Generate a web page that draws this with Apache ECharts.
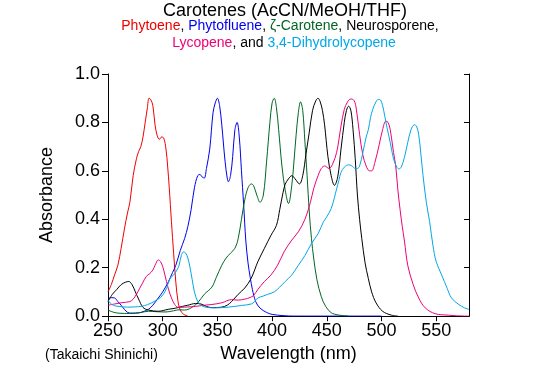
<!DOCTYPE html>
<html>
<head>
<meta charset="utf-8">
<script src="https://cdn.jsdelivr.net/npm/echarts@6/dist/echarts.min.js"></script>
<style>html,body{margin:0;padding:0;background:#fff}#c{width:540px;height:368px}</style>
</head>
<body>
<div id="c"></div>
<script>
// ---- data (wavelength nm, absorbance) ----
var phytoene = [[250,0.10],[253,0.13],[256,0.17],[259,0.21],[262,0.28],[265,0.36],[268,0.43],[270,0.47],[273,0.58],[276,0.65],[278,0.68],[280,0.70],[282,0.74],[284,0.80],[286,0.86],[287.5,0.90],[289,0.895],[291,0.87],[293,0.79],[295,0.745],[297,0.73],[299,0.74],[301,0.735],[303,0.69],[304.5,0.62],[306,0.53],[308,0.39],[310,0.26],[312,0.14],[314,0.06],[316,0.025],[319,0.008],[323,0]];
var phytofluene = [[250,0.072],[253,0.076],[256,0.075],[259,0.06],[262,0.045],[265,0.028],[268,0.015],[272,0.012],[278,0.013],[283,0.02],[287,0.028],[291,0.045],[296,0.075],[300,0.10],[305,0.14],[309,0.18],[312,0.21],[316,0.27],[320,0.32],[323,0.37],[326,0.44],[329,0.53],[332,0.58],[334,0.585],[336,0.575],[338,0.57],[340,0.61],[343,0.69],[346,0.84],[348,0.88],[350,0.90],[352,0.87],[354,0.79],[357,0.64],[359,0.57],[360,0.555],[362,0.58],[364,0.66],[366,0.77],[368,0.80],[370,0.74],[372,0.60],[374,0.46],[376,0.31],[378,0.22],[380,0.16],[382,0.11],[385,0.06],[389,0.033],[395,0.015],[400,0.007],[410,0.002],[420,0],[500,0]];
var zetaCarotene = [[250,0.025],[255,0.016],[260,0.012],[270,0.011],[280,0.015],[287,0.02],[295,0.018],[303,0.017],[310,0.022],[315,0.026],[320,0.025],[326,0.034],[332,0.055],[338,0.09],[345,0.12],[349,0.16],[354,0.21],[358,0.24],[362,0.26],[366,0.28],[369,0.32],[372,0.40],[375,0.48],[378,0.53],[381,0.546],[383,0.54],[386,0.50],[389,0.47],[392,0.50],[395,0.64],[398,0.80],[400,0.88],[402,0.90],[404,0.86],[406,0.77],[409,0.62],[412,0.52],[415,0.465],[418,0.54],[420,0.64],[422,0.75],[424,0.84],[426,0.885],[428,0.85],[430,0.72],[432,0.58],[434,0.43],[436,0.32],[438,0.24],[441,0.15],[445,0.08],[449,0.04],[454,0.014],[460,0.005],[470,0]];
var neurosporene = [[250,0.06],[254,0.09],[258,0.11],[262,0.13],[266,0.14],[269,0.143],[272,0.13],[275,0.10],[278,0.07],[282,0.036],[287,0.025],[296,0.02],[305,0.028],[312,0.033],[318,0.04],[323,0.045],[330,0.052],[335,0.05],[340,0.04],[345,0.035],[354,0.037],[359,0.045],[363,0.06],[369,0.09],[375,0.116],[381,0.157],[387,0.225],[393,0.28],[399,0.334],[404,0.375],[407,0.44],[410,0.51],[412,0.545],[415,0.567],[418,0.58],[421,0.567],[425,0.546],[428,0.58],[431,0.67],[434,0.76],[437,0.85],[440,0.89],[442,0.90],[444,0.885],[446,0.85],[448,0.79],[451,0.66],[454,0.58],[457,0.54],[460,0.575],[463,0.69],[466,0.80],[468,0.85],[470,0.867],[472,0.85],[474,0.77],[476,0.65],[478,0.50],[480,0.40],[482,0.32],[485,0.22],[488,0.155],[491,0.10],[495,0.055],[501,0.02],[509,0.004],[515,0]];
var lycopene = [[250,0.045],[256,0.05],[262,0.055],[270,0.06],[273,0.07],[276,0.09],[279,0.115],[282,0.14],[285,0.164],[288,0.175],[291,0.19],[293,0.21],[296,0.232],[298,0.225],[300,0.205],[302,0.17],[305,0.116],[308,0.075],[311,0.048],[314,0.036],[320,0.037],[330,0.04],[338,0.045],[345,0.048],[354,0.055],[363,0.068],[369,0.066],[375,0.07],[380,0.077],[383,0.085],[387,0.11],[393,0.143],[399,0.17],[405,0.21],[411,0.266],[418,0.314],[424,0.348],[430,0.40],[435,0.47],[438,0.526],[442,0.58],[445,0.61],[448,0.62],[452,0.61],[455,0.625],[459,0.676],[463,0.785],[466,0.854],[469,0.885],[472,0.897],[475,0.89],[477,0.855],[480,0.75],[483,0.665],[486,0.62],[489,0.60],[491,0.60],[494,0.635],[498,0.71],[501,0.77],[504,0.805],[506,0.80],[508,0.77],[511,0.676],[513,0.62],[515,0.52],[517,0.44],[519,0.37],[521,0.31],[524,0.21],[529,0.13],[534,0.075],[540,0.034],[549,0.01],[561,0.004],[576,0],[580,0]];
var dihydrolycopene = [[250,0.065],[253,0.05],[256,0.043],[260,0.04],[268,0.037],[275,0.038],[281,0.041],[286,0.047],[290,0.055],[294,0.065],[298,0.077],[302,0.10],[305,0.135],[307,0.157],[310,0.17],[313,0.19],[315,0.21],[317,0.25],[319,0.265],[321,0.26],[323,0.24],[325,0.20],[327,0.15],[329,0.10],[332,0.06],[335,0.045],[339,0.037],[348,0.034],[360,0.037],[372,0.044],[381,0.05],[384,0.06],[387,0.075],[392,0.083],[396,0.09],[402,0.10],[407,0.12],[412,0.143],[418,0.17],[424,0.21],[430,0.25],[436,0.30],[442,0.34],[447,0.39],[450,0.41],[454,0.444],[457,0.49],[459,0.526],[461,0.56],[463,0.594],[466,0.615],[470,0.625],[473,0.62],[476,0.61],[478,0.61],[480,0.62],[483,0.676],[486,0.74],[488,0.77],[490,0.82],[492,0.854],[495,0.885],[497,0.895],[499,0.893],[501,0.87],[503,0.826],[505,0.78],[508,0.717],[511,0.65],[514,0.615],[516,0.608],[518,0.615],[521,0.656],[524,0.717],[527,0.77],[530,0.79],[532,0.785],[534,0.75],[536,0.67],[538,0.58],[541,0.47],[544,0.39],[547,0.293],[550,0.225],[555,0.17],[560,0.115],[564,0.075],[570,0.05],[576,0.034],[580,0.028]];

var seriesNames = ['Phytoene','Phytofluene','ζ-Carotene','Neurosporene','Lycopene','3,4-Dihydrolycopene'];
var seriesData = [phytoene, phytofluene, zetaCarotene, neurosporene, lycopene, dihydrolycopene];
var xTicks = [250,300,350,400,450,500,550];
var yTicks = [0,0.2,0.4,0.6,0.8,1.0];
var titleText = 'Carotenes (AcCN/MeOH/THF)';
var creditText = '(Takaichi Shinichi)';

var colors = ['#ee0000','#0000ee','#006622','#000000','#ee0077','#00a8e8'];
var FONT = '"Liberation Sans", Arial, sans-serif';

var chart = echarts.init(document.getElementById('c'), null, {renderer:'canvas'});
var grid = {left:108, right:71, top:74, bottom:50};
var axisCommon = {
  axisLine:{show:true, lineStyle:{color:'#000', width:1}},
  splitLine:{show:false}
};
var option = {
  animation:false,
  backgroundColor:'#fff',
  grid: grid,
  graphic: [
    {type:'text', x:285, y:11, style:{text:titleText, fill:'#000', font:'18px ' + FONT, textAlign:'center', textVerticalAlign:'middle'}},
    {type:'text', x:280, y:26, style:{
      text:'{a|Phytoene}{k|, }{b|Phytofluene}{k|, }{c|ζ-Carotene}{k|, Neurosporene,}',
      textAlign:'center', textVerticalAlign:'middle', font:'14px ' + FONT,
      rich:{a:{fill:colors[0], font:'14px '+FONT},b:{fill:colors[1], font:'14px '+FONT},c:{fill:colors[2], font:'14px '+FONT},k:{fill:'#000', font:'14px '+FONT}}
    }},
    {type:'text', x:284, y:43, style:{
      text:'{e|Lycopene}{k|, and }{f|3,4-Dihydrolycopene}',
      textAlign:'center', textVerticalAlign:'middle', font:'14px ' + FONT,
      rich:{e:{fill:colors[4], font:'14px '+FONT},f:{fill:colors[5], font:'14px '+FONT},k:{fill:'#000', font:'14px '+FONT}}
    }},
    {type:'text', x:45, y:355, style:{text:creditText, fill:'#000', font:'14px ' + FONT, textAlign:'left', textVerticalAlign:'middle'}}
  ],
  xAxis: [
    Object.assign({}, axisCommon, {
      type:'value', min:250, max:580, interval:50, position:'bottom',
      name:'Wavelength (nm)', nameLocation:'middle', nameGap:26,
      nameTextStyle:{color:'#000', fontSize:18, fontFamily:FONT},
      axisTick:{show:true, inside:false, length:5, customValues:xTicks, lineStyle:{color:'#000'}},
      axisLabel:{show:true, customValues:xTicks, color:'#000', fontSize:18, fontFamily:FONT, margin:6}
    }),
    Object.assign({}, axisCommon, {
      type:'value', min:250, max:580, interval:50, position:'top',
      axisTick:{show:true, inside:true, length:5, customValues:xTicks, lineStyle:{color:'#000'}},
      axisLabel:{show:false}
    })
  ],
  yAxis: [
    Object.assign({}, axisCommon, {
      type:'value', min:0, max:1, interval:0.2, position:'left',
      name:'Absorbance', nameLocation:'middle', nameGap:52, nameRotate:90,
      nameTextStyle:{color:'#000', fontSize:18, fontFamily:FONT},
      axisTick:{show:true, inside:false, length:6, lineStyle:{color:'#000'}},
      axisLabel:{show:true, color:'#000', fontSize:18, fontFamily:FONT, margin:8, formatter:function(v){return v.toFixed(1);}}
    }),
    Object.assign({}, axisCommon, {
      type:'value', min:0, max:1, interval:0.2, position:'right',
      axisTick:{show:true, inside:true, length:5, lineStyle:{color:'#000'}},
      axisLabel:{show:false}
    })
  ],
  series: seriesData.map(function(d, i){
    return {
      name: seriesNames[i], type:'line', data:d, xAxisIndex:0, yAxisIndex:0,
      showSymbol:false, smooth:0.35, clip:true,
      lineStyle:{color:colors[i], width:1}, itemStyle:{color:colors[i]}
    };
  })
};
chart.setOption(option);
</script>
</body>
</html>
